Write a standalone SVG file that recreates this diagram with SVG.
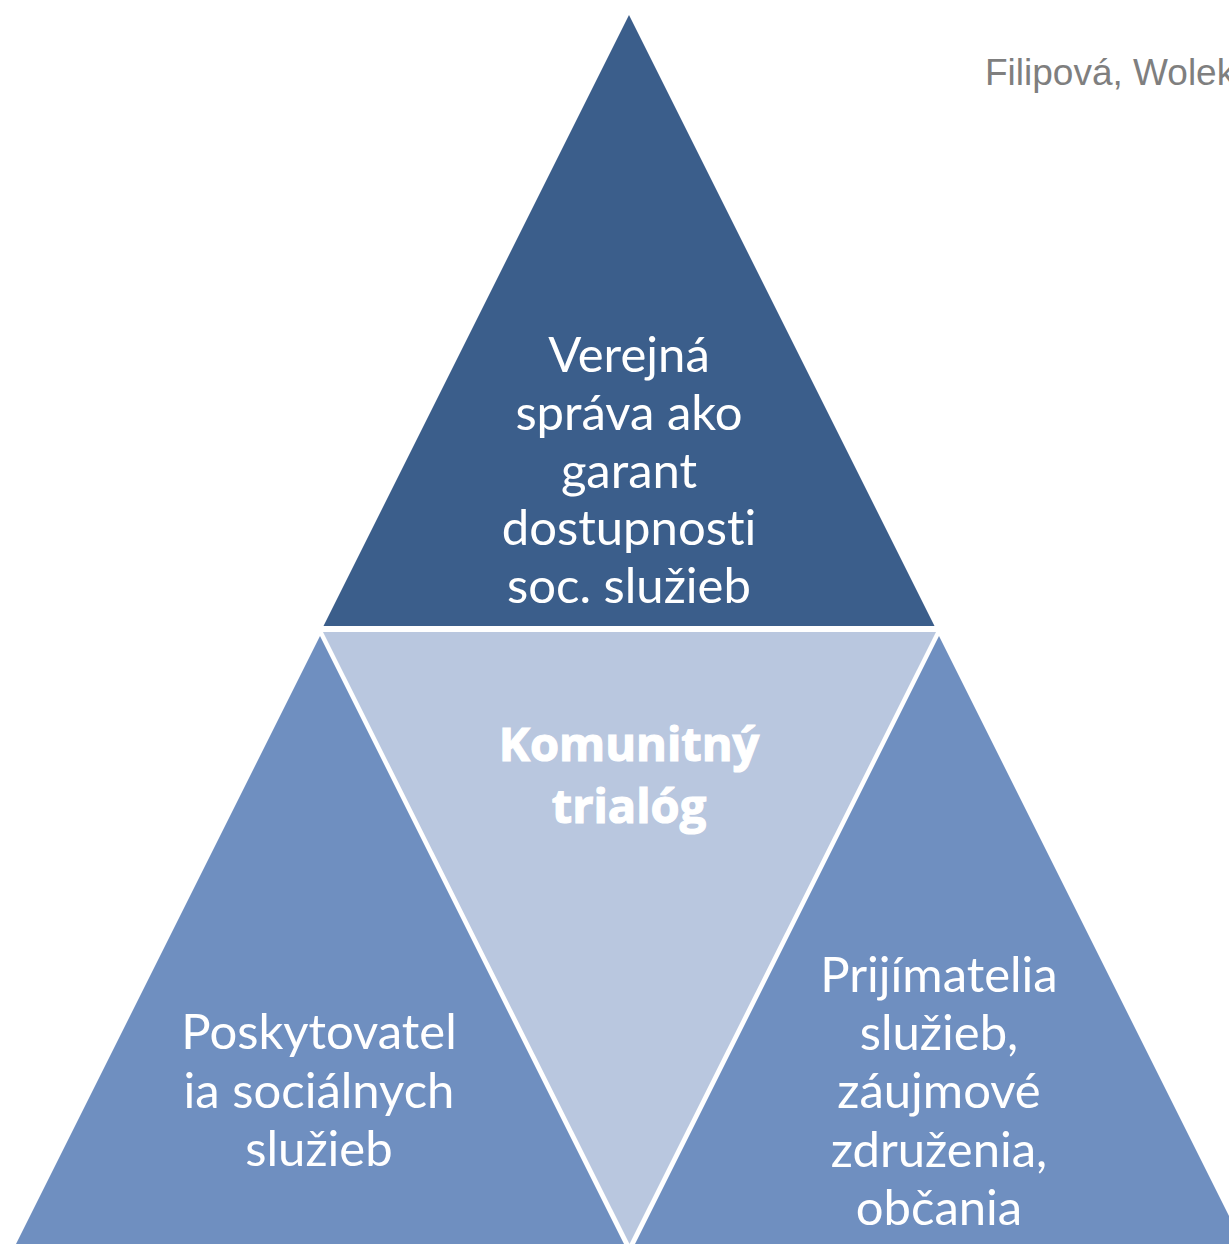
<svg xmlns="http://www.w3.org/2000/svg" width="1229" height="1244" viewBox="0 0 1229 1244">
<style>
.lbl{font-family:Lato,"Open Sans","Liberation Sans",sans-serif;font-size:49px;fill:#ffffff;text-anchor:middle;font-variant-ligatures:none;font-feature-settings:"liga" 0}
.bold{font-family:"Open Sans",Lato,"Liberation Sans",sans-serif;font-size:47px;font-weight:bold;fill:#ffffff;stroke:#ffffff;stroke-width:1.2px;text-anchor:middle}
.dark{fill:#3b5e8b}
.mid{fill:#6f8fc0}
.light{fill:#b9c7df}
</style>
<rect width="1229" height="1244" fill="#ffffff"/>
<g id="top">
<polygon class="dark" points="629,15 323.5,626 934.5,626"/>
<text class="lbl"><tspan x="629" y="372">Verejná</tspan><tspan x="629" y="430">správa ako</tspan><tspan x="629" y="488">garant</tspan><tspan x="629" y="545">dostupnosti</tspan><tspan x="629" y="603">soc. služieb</tspan></text>
</g>
<g id="center">
<polygon class="light" points="323,632 936,632 629.5,1244"/>
<text class="bold"><tspan x="629" y="761">Komunitný</tspan><tspan x="629" y="823">trialóg</tspan></text>
</g>
<g id="left">
<polygon class="mid" points="320,636 16,1244 624,1244"/>
<text class="lbl"><tspan x="319" y="1049">Poskytovatel</tspan><tspan x="319" y="1108">ia sociálnych</tspan><tspan x="319" y="1166">služieb</tspan></text>
</g>
<g id="right">
<polygon class="mid" points="939,636 635,1244 1243,1244"/>
<text class="lbl"><tspan x="939" y="992">Prijímatelia</tspan><tspan x="939" y="1050">služieb,</tspan><tspan x="939" y="1108">záujmové</tspan><tspan x="939" y="1167">združenia,</tspan><tspan x="939" y="1225">občania</tspan></text>
</g>
<g id="author">
<text x="985" y="85" font-family="'Liberation Sans',Arial,sans-serif" font-size="37" fill="#7f7f7f">Filipová, Wolek</text>
</g>
</svg>
